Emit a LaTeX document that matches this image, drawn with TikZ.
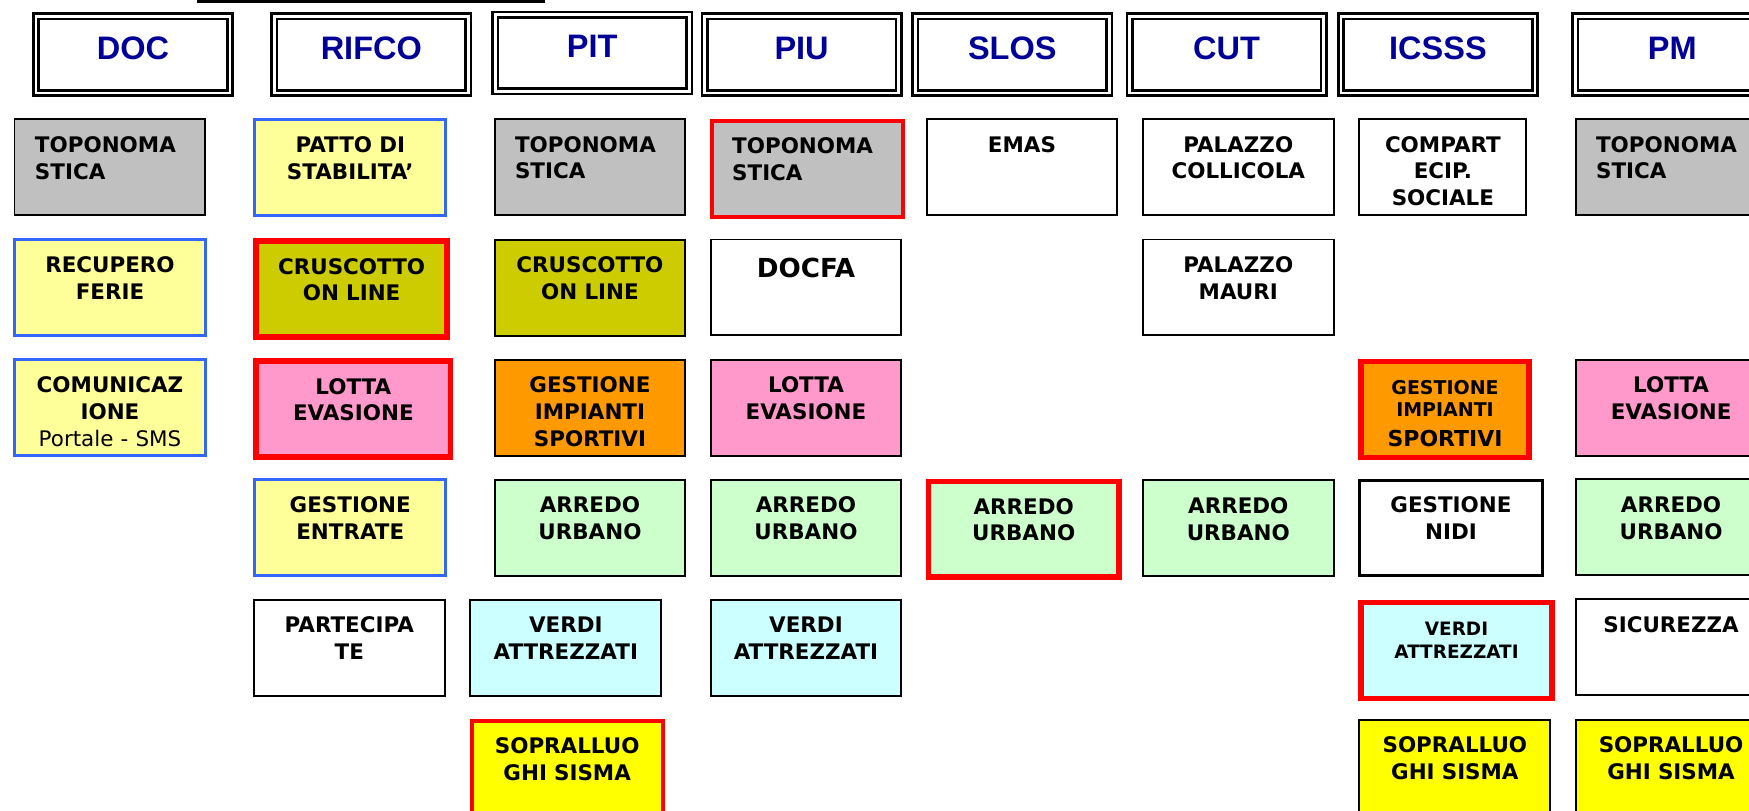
\documentclass[tikz,border=0pt]{standalone}
\usepackage{fontspec}
\setmainfont{DejaVu Sans}
\newfontfamily\headfont{Liberation Sans}
\definecolor{grigio}{HTML}{C0C0C0}
\definecolor{giallino}{HTML}{FFFF99}
\definecolor{oliva}{HTML}{CCCC00}
\definecolor{rosa}{HTML}{FF99CC}
\definecolor{arancio}{HTML}{FF9900}
\definecolor{verdino}{HTML}{CCFFCC}
\definecolor{azzurrino}{HTML}{CCFFFF}
\definecolor{giallo}{HTML}{FFFF00}
\definecolor{blu}{HTML}{000099}
\definecolor{bordoblu}{HTML}{3366FF}
\begin{document}
\begin{tikzpicture}[x=0.02cm, y=-0.02cm,
		head/.style={draw, double=white, line width=0.053cm, double distance=0.054cm, anchor=north west,
			minimum width=3.88cm, inner sep=0pt, text height=0.866cm, text depth=0.668cm,
			font=\headfont\bfseries\fontsize{18.5}{20}\selectfont, text=blu},
		box/.style={draw, line width=0.04cm, anchor=north west, minimum width=3.82cm, minimum height=1.92cm,
			inner xsep=0.1cm, inner ysep=0pt, text width=3.0cm, align=center, text height=0.66cm, text depth=1.26cm,
			font=\bfseries\fontsize{12.2}{15.2}\selectfont},
		topo/.style={box, fill=grigio, align=left},
		bluebox/.style={box, draw=bordoblu, line width=0.06cm},
		redbox/.style={box, draw=red, line width=0.11cm},
		redthin/.style={box, draw=red, line width=0.08cm}]
		\useasboundingbox (0,0) rectangle (1749,811);
		\clip (0,0) rectangle (1749,811);
		%top edge
		\draw[line width=0.054cm] (197,1.35) -- (545,1.35);
		%headers
		\foreach \x/\y/\name in {34.7/15/DOC, 273/15/RIFCO, 493.9/13.3/PIT, 703.3/15/PIU, 914/15/SLOS, 1128.3/15/CUT, 1339.6/15/ICSSS, 1574/15/PM}
			\node[head] (h\name) at (\x, \y) {\name};
		%DOC
		\node[topo] (docTopo) at (13.5,118.5) {TOPONOMA\\STICA};
		\node[bluebox, fill=giallino] (docFerie) at (13,238.2) {RECUPERO\\FERIE};
		\node[bluebox, fill=giallino] (docCom) at (13,358.2) {COMUNICAZ\\IONE\\{\mdseries Portale - SMS}};
		%RIFCO
		\node[bluebox, fill=giallino] (rifPatto) at (253.3,118.2) {PATTO DI\\STABILITA’};
		\node[redbox, fill=oliva] (rifCruscotto) at (253.4,238.4) {CRUSCOTTO\\ON LINE};
		\node[redbox, fill=rosa, minimum width=3.89cm] (rifLotta) at (253.4,358.4) {LOTTA\\EVASIONE};
		\node[bluebox, fill=giallino] (rifEntrate) at (253.3,478.2) {GESTIONE\\ENTRATE};
		\node[box] (rifPartecipate) at (252.8,598.7) {PARTECIPA\\TE};
		%PIT
		\node[topo] (pitTopo) at (493.5,118.3) {TOPONOMA\\STICA};
		\node[box, fill=oliva] (pitCruscotto) at (493.5,238.7) {CRUSCOTTO\\ON LINE};
		\node[box, fill=arancio] (pitImpianti) at (493.5,358.7) {GESTIONE\\IMPIANTI\\SPORTIVI};
		\node[box, fill=verdino] (pitArredo) at (493.5,478.7) {ARREDO\\URBANO};
		\node[box, fill=azzurrino] (pitVerdi) at (469.3,598.7) {VERDI\\ATTREZZATI};
		\node[redthin, fill=giallo] (pitSisma) at (469.7,718.7) {SOPRALLUO\\GHI SISMA};
		%PIU
		\node[topo, draw=red, line width=0.08cm] (piuTopo) at (709.7,118.7) {TOPONOMA\\STICA};
		\node[box, text height=0.76cm, text depth=1.16cm, font=\bfseries\fontsize{14.9}{18}\selectfont] (piuDocfa) at (709.5,238.5) {DOCFA};
		\node[box, fill=rosa] (piuLotta) at (709.5,358.7) {LOTTA\\EVASIONE};
		\node[box, fill=verdino] (piuArredo) at (709.5,478.7) {ARREDO\\URBANO};
		\node[box, fill=azzurrino] (piuVerdi) at (709.5,598.7) {VERDI\\ATTREZZATI};
		%SLOS
		\node[box] (slosEmas) at (925.5,118.3) {EMAS};
		\node[redbox, fill=verdino] (slosArredo) at (925.5,478.5) {ARREDO\\URBANO};
		%CUT
		\node[box] (cutCollicola) at (1141.8,118.3) {PALAZZO\\COLLICOLA};
		\node[box] (cutMauri) at (1141.8,238.5) {PALAZZO\\MAURI};
		\node[box, fill=verdino] (cutArredo) at (1141.8,479.3) {ARREDO\\URBANO};
		%ICSSS
		\node[box, minimum width=3.34cm] (icsCompart) at (1358.4,118.3) {COMPART\\ECIP.\\SOCIALE};
		\node[redbox, fill=arancio, minimum width=3.36cm] (icsImpianti) at (1358.3,358.8)
			{\fontsize{10.8}{12.3}\selectfont GESTIONE\\IMPIANTI\\[2pt]{\fontsize{12.5}{12.3}\selectfont SPORTIVI}};
		\node[box, line width=0.06cm, minimum width=3.65cm] (icsNidi) at (1358.2,478.5) {GESTIONE\\NIDI};
		\node[redbox, fill=azzurrino, font=\bfseries\fontsize{10.5}{12.9}\selectfont] (icsVerdi) at (1358.3,599.8) {VERDI\\ATTREZZATI};
		\node[box, fill=giallo] (icsSisma) at (1358.4,718.7) {SOPRALLUO\\GHI SISMA};
		%PM
		\node[topo] (pmTopo) at (1574.6,118.3) {TOPONOMA\\STICA};
		\node[box, fill=rosa] (pmLotta) at (1574.6,358.7) {LOTTA\\EVASIONE};
		\node[box, fill=verdino] (pmArredo) at (1574.6,478.3) {ARREDO\\URBANO};
		\node[box] (pmSicurezza) at (1574.6,598.3) {SICUREZZA};
		\node[box, fill=giallo] (pmSisma) at (1574.6,718.7) {SOPRALLUO\\GHI SISMA};
\end{tikzpicture}
\end{document}
